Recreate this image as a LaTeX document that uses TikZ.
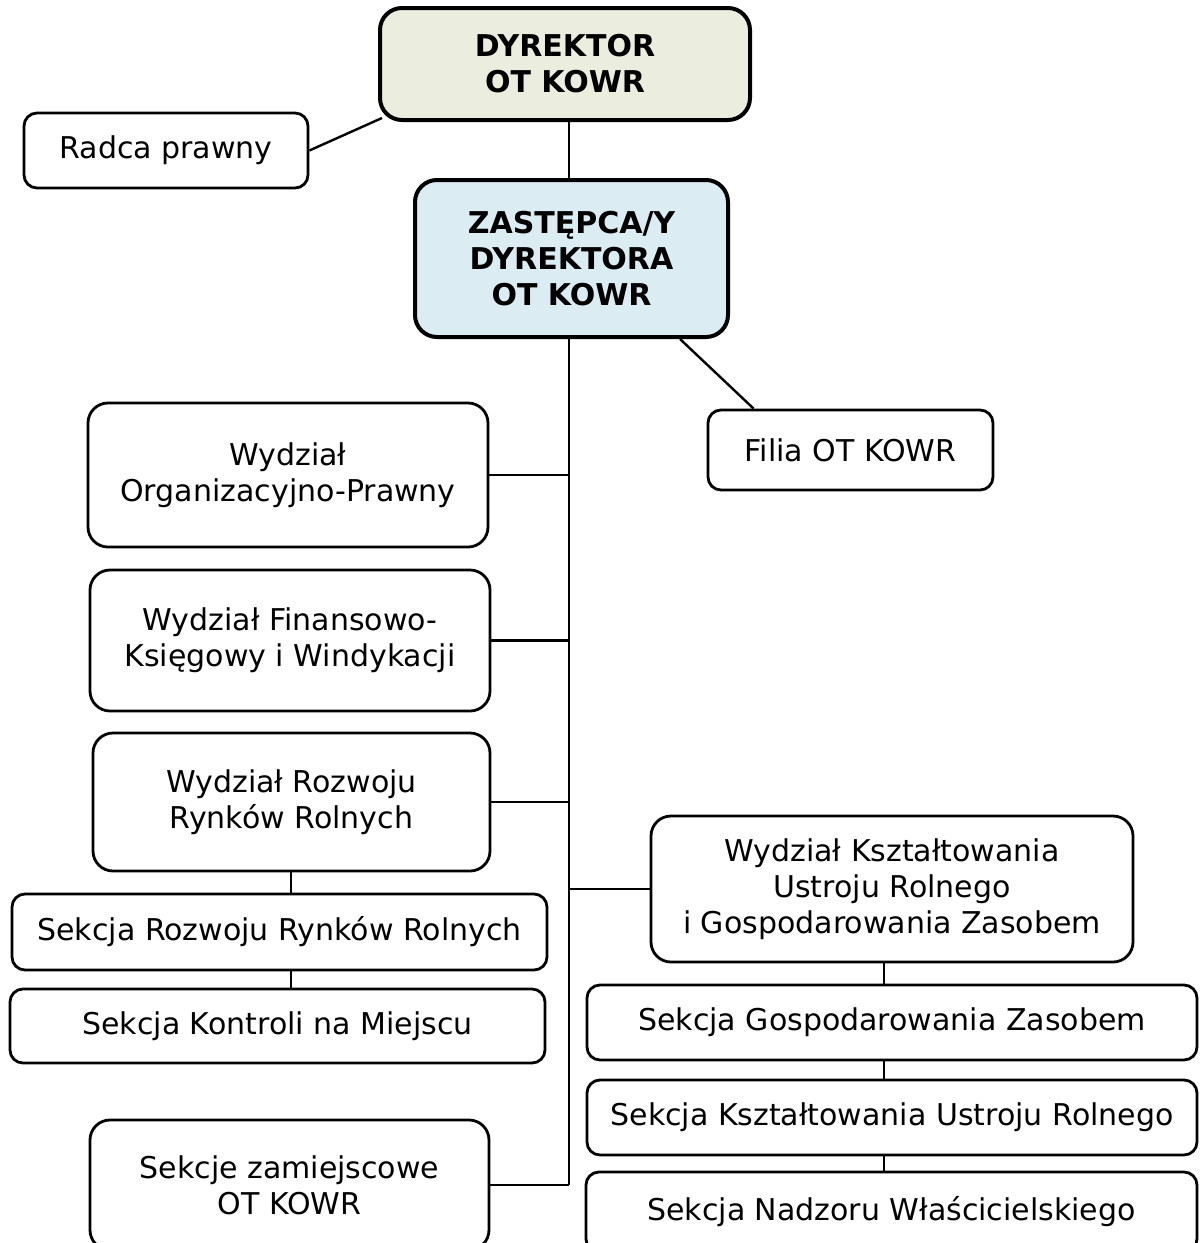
\documentclass[tikz,border=0pt]{standalone}
\usepackage{fontspec}
\setmainfont{DejaVu Sans}
\usetikzlibrary{calc,backgrounds}
\definecolor{dyrfill}{HTML}{EBEEDF}
\definecolor{zastfill}{HTML}{DBEDF3}
\begin{document}
\begin{tikzpicture}[x=1pt,y=-1pt,
  box/.style={draw=black,fill=white,line width=2.8pt,rounded corners=13pt,inner sep=0pt,align=center,font=\fontsize{30}{36}\selectfont},
  bigbox/.style={box,line width=4pt,rounded corners=22pt,font=\fontsize{30}{36}\selectfont\bfseries},
  conn/.style={line width=2.4pt}]
\useasboundingbox (0,0) rectangle (1202,1243);
\node[bigbox,fill=dyrfill,minimum width=370pt,minimum height=112pt] (dyr) at (565,64) {DYREKTOR\\OT KOWR};
\node[box,minimum width=284pt,minimum height=75pt] (radca) at (166,150.5) {\raisebox{-4pt}{Radca prawny}};
\node[bigbox,fill=zastfill,minimum width=313pt,minimum height=157pt] (zast) at (571.5,258.5) {ZASTĘPCA/Y\\DYREKTORA\\OT KOWR};
\node[box,minimum width=285pt,minimum height=80pt] (filia) at (850.5,450) {Filia OT KOWR};
\node[box,rounded corners=20pt,minimum width=400pt,minimum height=144pt] (org) at (288,475) {Wydział\\Organizacyjno-Prawny};
\node[box,rounded corners=20pt,minimum width=400pt,minimum height=141pt] (fin) at (290,640.5) {Wydział Finansowo-\\Księgowy i Windykacji};
\node[box,rounded corners=20pt,minimum width=397pt,minimum height=138pt] (roz) at (291.5,802) {Wydział Rozwoju\\Rynków Rolnych};
\node[box,minimum width=535pt,minimum height=76pt] (srr) at (279.5,932) {Sekcja Rozwoju Rynków Rolnych};
\node[box,minimum width=535pt,minimum height=74pt] (skm) at (277.5,1026) {Sekcja Kontroli na Miejscu};
\node[box,rounded corners=20pt,minimum width=399pt,minimum height=130pt] (zam) at (289.5,1185) {Sekcje zamiejscowe\\OT KOWR};
\node[box,rounded corners=20pt,minimum width=482pt,minimum height=146pt] (kszt) at (892,889) {Wydział Kształtowania\\Ustroju Rolnego\\i Gospodarowania Zasobem};
\node[box,minimum width=610pt,minimum height=75pt] (sgz) at (892,1022.5) {Sekcja Gospodarowania Zasobem};
\node[box,minimum width=610pt,minimum height=75pt] (sku) at (892,1117.5) {Sekcja Kształtowania Ustroju Rolnego};
\node[box,minimum width=611pt,minimum height=80pt] (snw) at (891.5,1212) {Sekcja Nadzoru Właścicielskiego};
\coordinate (tx) at (569,0);
\coordinate (kx) at (884,0);
\coordinate (rx) at (291,0);
\begin{scope}[on background layer]
\draw[conn] (radca.east) -- ($(dyr.south west)+(4,-4)$);
\draw[conn] (tx |- dyr.south) -- (tx |- zast.north);
\draw[conn] (tx |- zast.south) -- (tx |- zam.east);
\draw[conn] ($(zast.south east)+(-50,0)$) -- ($(filia.north west)+(47,0)$);
\draw[conn] (org.east) -- (org.east -| tx);
\draw[conn] (fin.east) -- (fin.east -| tx);
\draw[conn] (roz.east) -- (roz.east -| tx);
\draw[conn] (zam.east) -- (zam.east -| tx);
\draw[conn] (kszt.west -| tx) -- (kszt.west);
\draw[conn] (rx |- roz.south) -- (rx |- srr.north);
\draw[conn] (rx |- srr.south) -- (rx |- skm.north);
\draw[conn] (kx |- kszt.south) -- (kx |- sgz.north);
\draw[conn] (kx |- sgz.south) -- (kx |- sku.north);
\draw[conn] (kx |- sku.south) -- (kx |- snw.north);
\end{scope}
\end{tikzpicture}
\end{document}
